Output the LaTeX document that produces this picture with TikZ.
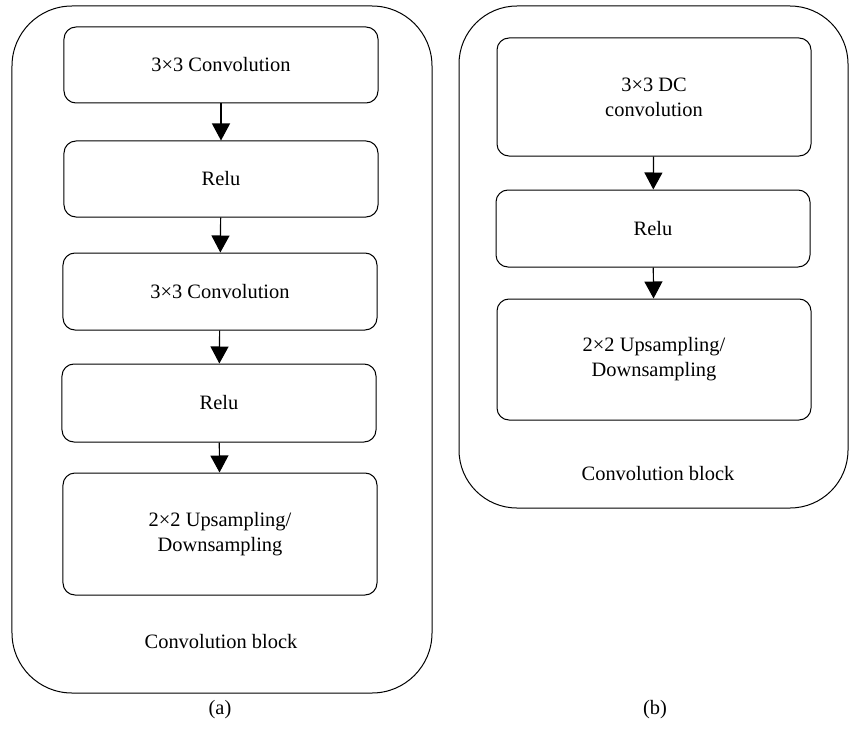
\documentclass[tikz,border=0pt]{standalone}
\usepackage{fontspec}
\setmainfont{Liberation Serif}
\usetikzlibrary{arrows.meta}
\begin{document}
\begin{tikzpicture}[x=1bp,y=-1bp,
  outerbox/.style={draw, line width=1bp, rounded corners=60bp, inner sep=0pt},
  stagebox/.style={draw, line width=1bp, rounded corners=12bp, minimum width=314bp, inner sep=0pt, align=center, font=\fontsize{20.5}{25}\selectfont},
  lbl/.style={inner sep=0pt, font=\fontsize{20.5}{25}\selectfont},
  arr/.style={line width=1.2bp, -{Triangle[length=17bp,width=18bp]}}]
\useasboundingbox (0,0) rectangle (850,735);
% outer containers
\node[outerbox, minimum width=420bp, minimum height=687bp] (A) at (222,349.5) {};
\node[outerbox, rounded corners=58bp, minimum width=389bp, minimum height=502bp] (B) at (653.5,257) {};
% (a)
\node[stagebox, minimum height=76bp] (a1) at (221,65) {3×3 Convolution};
\node[stagebox, minimum height=76bp] (a2) at (221,179) {Relu};
\node[stagebox, minimum height=77bp] (a3) at (220,291.5) {3×3 Convolution};
\node[stagebox, minimum height=78bp] (a4) at (219,403) {Relu};
\node[stagebox, minimum height=122bp] (a5) at (220,534) {2×2 Upsampling/\\Downsampling};
\node[lbl] (at) at (221,642) {Convolution block};
\node[lbl] (ca) at (220,710) {(a)};
\draw[arr] (a1) -- (a2);
\draw[arr] (a2) -- (a3);
\draw[arr] (a3) -- (a4);
\draw[arr] (a4) -- (a5);
% (b)
\node[stagebox, minimum height=118bp] (b1) at (654,97) {3×3 DC\\convolution};
\node[stagebox, minimum height=77bp] (b2) at (653,228.5) {Relu};
\node[stagebox, minimum height=121bp] (b3) at (654,359.5) {2×2 Upsampling/\\Downsampling};
\node[lbl] (bt) at (658,474) {Convolution block};
\node[lbl] (cb) at (655,710) {(b)};
\draw[arr] (b1) -- (b2);
\draw[arr] (b2) -- (b3);
\end{tikzpicture}
\end{document}
